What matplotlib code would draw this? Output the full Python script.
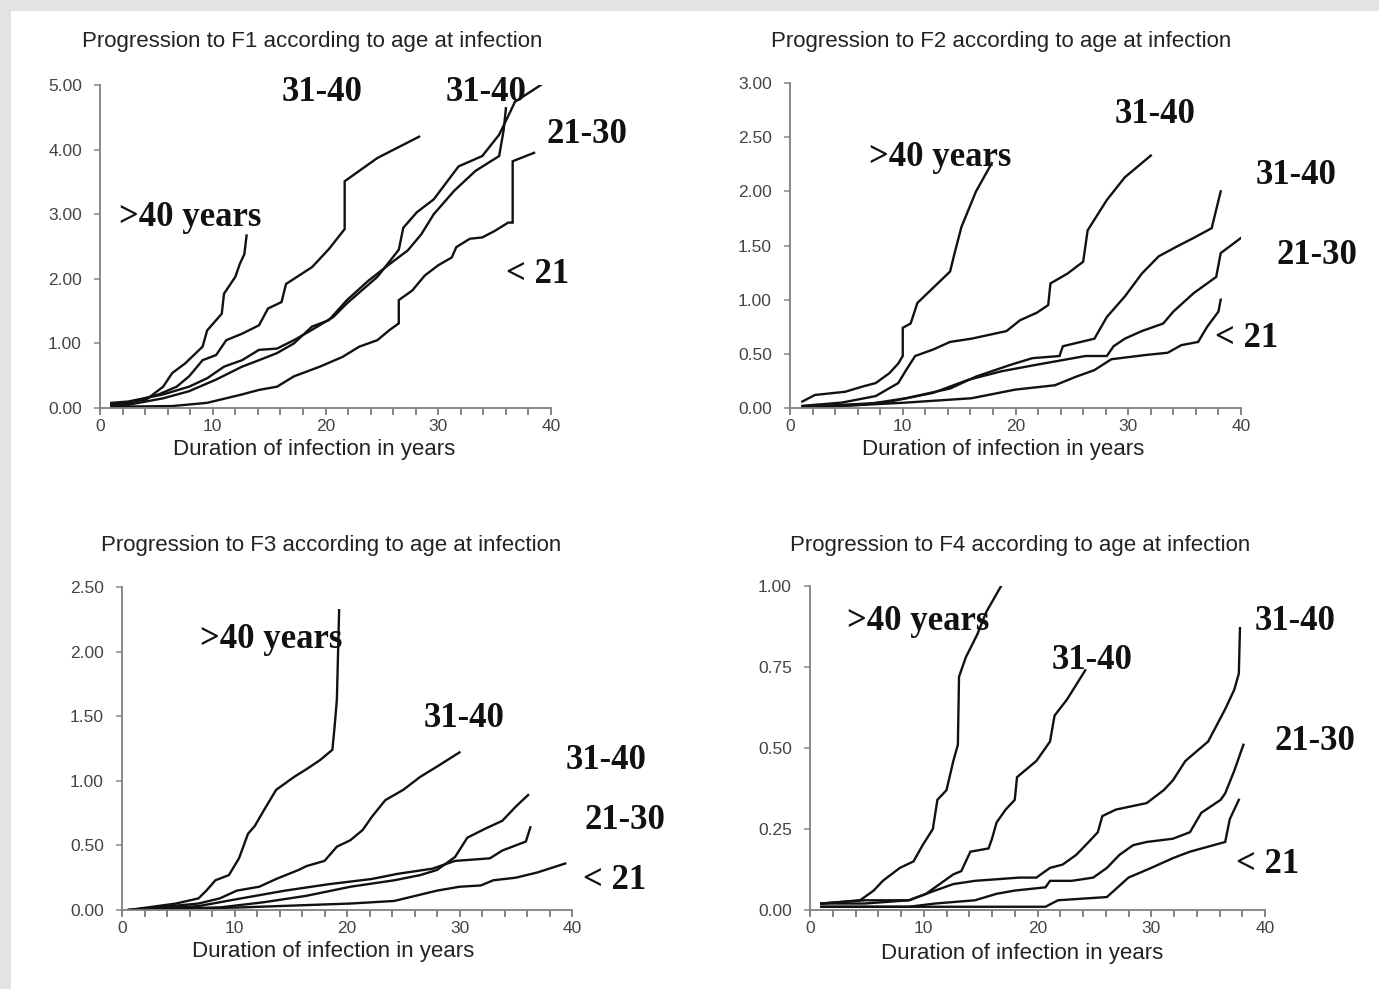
import numpy as np
import matplotlib
matplotlib.use('Agg')
import matplotlib.pyplot as plt
from matplotlib.patches import Rectangle

# ---- data (duration in years, cumulative value) ----
# F1
f1_gt40_x = [1.0, 4.1, 5.6, 6.4, 7.55, 9.1, 9.5, 10.8, 11.0, 12.0, 12.4, 12.8, 13.0]
f1_gt40_y = [0.05, 0.13, 0.33, 0.54, 0.69, 0.95, 1.2, 1.46, 1.77, 2.03, 2.23, 2.38, 2.67]
f1_a_x = [1.0, 2.5, 5.2, 6.8, 7.9, 9.1, 10.3, 11.2, 12.6, 14.1, 14.9, 16.1, 16.5, 18.8, 20.3, 21.7, 21.7, 24.6, 28.3]
f1_a_y = [0.05, 0.08, 0.21, 0.33, 0.49, 0.74, 0.82, 1.05, 1.15, 1.28, 1.54, 1.64, 1.92, 2.18, 2.46, 2.77, 3.51, 3.87, 4.2]
f1_b_x = [1.0, 2.5, 5.6, 7.9, 9.5, 11.0, 12.6, 14.1, 15.7, 17.2, 18.8, 20.7, 21.9, 24.6, 26.5, 26.9, 28.1, 29.6, 31.8, 33.9, 35.4, 36.4, 36.8, 39.1]
f1_b_y = [0.08, 0.10, 0.21, 0.33, 0.46, 0.64, 0.74, 0.90, 0.92, 1.05, 1.21, 1.41, 1.62, 2.03, 2.45, 2.79, 3.03, 3.23, 3.74, 3.9, 4.23, 4.59, 4.74, 5.0]
f1_c_x = [1.0, 2.5, 5.6, 7.9, 10.3, 12.6, 14.1, 15.7, 17.2, 18.8, 20.3, 21.9, 23.8, 25.7, 27.3, 28.5, 29.6, 31.4, 33.3, 35.4, 35.8, 36.0]
f1_c_y = [0.04, 0.05, 0.15, 0.26, 0.44, 0.64, 0.74, 0.85, 1.0, 1.26, 1.36, 1.67, 1.97, 2.23, 2.44, 2.69, 3.0, 3.36, 3.67, 3.9, 4.3, 4.64]
f1_lt21_x = [1.0, 6.4, 9.5, 12.6, 14.1, 15.7, 17.2, 19.5, 21.5, 23.0, 24.6, 25.7, 26.5, 26.5, 27.7, 28.8, 30.0, 31.2, 31.6, 32.8, 33.9, 35.0, 36.2, 36.6, 36.6, 38.5]
f1_lt21_y = [0.02, 0.03, 0.08, 0.21, 0.28, 0.33, 0.49, 0.64, 0.79, 0.95, 1.05, 1.21, 1.31, 1.67, 1.82, 2.05, 2.21, 2.33, 2.49, 2.62, 2.64, 2.74, 2.87, 2.87, 3.82, 3.95]

# F2
f2_gt40_x = [1.1, 2.2, 4.9, 6.5, 7.6, 8.8, 9.6, 10.0, 10.0, 10.7, 11.3, 12.7, 14.2, 14.6, 15.2, 16.5, 17.9]
f2_gt40_y = [0.06, 0.12, 0.15, 0.20, 0.23, 0.32, 0.41, 0.48, 0.74, 0.78, 0.97, 1.11, 1.26, 1.43, 1.67, 2.0, 2.26]
f2_a_x = [1.1, 4.6, 7.6, 9.6, 10.3, 11.1, 12.7, 14.2, 16.1, 19.2, 20.4, 21.9, 22.9, 23.1, 24.6, 26.0, 26.4, 28.1, 29.7, 32.0]
f2_a_y = [0.02, 0.05, 0.11, 0.23, 0.35, 0.48, 0.54, 0.61, 0.64, 0.71, 0.81, 0.88, 0.95, 1.15, 1.24, 1.35, 1.64, 1.92, 2.13, 2.33]
f2_b_x = [1.1, 6.5, 10.3, 14.2, 16.5, 19.6, 21.5, 23.9, 24.2, 27.0, 28.1, 29.7, 31.2, 32.7, 34.3, 35.8, 37.4, 38.2]
f2_b_y = [0.01, 0.03, 0.09, 0.18, 0.29, 0.40, 0.46, 0.48, 0.57, 0.64, 0.84, 1.03, 1.24, 1.40, 1.49, 1.57, 1.66, 2.0]
f2_c_x = [1.1, 8.4, 12.7, 15.8, 18.8, 21.9, 24.6, 26.2, 28.1, 28.7, 29.7, 31.2, 33.1, 34.0, 35.8, 37.8, 38.2, 40.0]
f2_c_y = [0.01, 0.05, 0.14, 0.26, 0.34, 0.40, 0.45, 0.48, 0.48, 0.57, 0.64, 0.71, 0.78, 0.89, 1.06, 1.21, 1.43, 1.57]
f2_lt21_x = [1.1, 10.3, 16.1, 20.0, 23.5, 25.4, 27.0, 28.5, 31.6, 33.5, 34.7, 36.2, 37.0, 38.0, 38.2]
f2_lt21_y = [0.0, 0.05, 0.09, 0.17, 0.21, 0.29, 0.35, 0.45, 0.49, 0.51, 0.58, 0.61, 0.75, 0.89, 1.0]

# F3
f3_gt40_x = [0.6, 4.8, 6.8, 7.5, 8.3, 9.5, 10.4, 11.2, 11.8, 12.6, 13.7, 15.3, 16.4, 17.6, 18.7, 18.9, 19.1, 19.3]
f3_gt40_y = [0.0, 0.05, 0.09, 0.15, 0.23, 0.27, 0.40, 0.59, 0.65, 0.77, 0.93, 1.03, 1.09, 1.16, 1.24, 1.42, 1.63, 2.32]
f3_a_x = [0.6, 6.8, 8.7, 10.2, 12.2, 13.7, 15.7, 16.4, 18.0, 19.1, 20.3, 21.4, 22.2, 23.4, 25.0, 26.5, 28.0, 30.0]
f3_a_y = [0.0, 0.05, 0.09, 0.15, 0.18, 0.24, 0.31, 0.34, 0.38, 0.49, 0.54, 0.62, 0.72, 0.85, 0.93, 1.03, 1.11, 1.22]
f3_b_x = [0.6, 8.7, 12.6, 16.4, 20.3, 24.2, 26.5, 28.0, 29.6, 30.7, 32.3, 33.8, 35.0, 36.1]
f3_b_y = [0.0, 0.02, 0.06, 0.11, 0.18, 0.23, 0.27, 0.31, 0.41, 0.56, 0.63, 0.69, 0.80, 0.89]
f3_c_x = [0.6, 6.8, 10.6, 14.5, 18.4, 22.2, 24.5, 27.6, 29.6, 32.7, 33.8, 35.9, 36.3]
f3_c_y = [0.0, 0.03, 0.09, 0.15, 0.20, 0.24, 0.28, 0.32, 0.38, 0.40, 0.46, 0.53, 0.64]
f3_lt21_x = [0.6, 10.6, 20.3, 24.2, 26.1, 28.0, 30.0, 31.9, 33.0, 35.0, 36.9, 39.4]
f3_lt21_y = [0.0, 0.02, 0.05, 0.07, 0.11, 0.15, 0.18, 0.19, 0.23, 0.25, 0.29, 0.36]

# F4
f4_gt40_x = [1.0, 4.4, 5.6, 6.4, 7.9, 9.1, 9.9, 10.8, 11.2, 12.0, 12.6, 13.0, 13.1, 13.7, 14.7, 15.5, 16.8]
f4_gt40_y = [0.02, 0.03, 0.06, 0.09, 0.13, 0.15, 0.20, 0.25, 0.34, 0.37, 0.46, 0.51, 0.72, 0.78, 0.85, 0.92, 1.0]
f4_a_x = [1.0, 4.8, 8.7, 10.2, 11.4, 12.6, 13.3, 14.1, 15.7, 16.0, 16.4, 17.2, 18.0, 18.2, 19.9, 21.1, 21.5, 22.6, 24.2]
f4_a_y = [0.02, 0.02, 0.03, 0.05, 0.08, 0.11, 0.12, 0.18, 0.19, 0.22, 0.27, 0.31, 0.34, 0.41, 0.46, 0.52, 0.60, 0.65, 0.74]
f4_b_x = [1.0, 4.8, 8.7, 11.0, 12.6, 14.5, 18.4, 19.9, 21.1, 22.2, 23.4, 24.5, 25.3, 25.7, 26.9, 29.6, 31.1, 31.9, 33.0, 35.0, 36.5, 37.3, 37.7, 37.8]
f4_b_y = [0.02, 0.03, 0.03, 0.06, 0.08, 0.09, 0.10, 0.10, 0.13, 0.14, 0.17, 0.21, 0.24, 0.29, 0.31, 0.33, 0.37, 0.40, 0.46, 0.52, 0.62, 0.68, 0.73, 0.87]
f4_c_x = [1.0, 8.7, 11.0, 14.5, 16.4, 18.0, 20.7, 21.1, 23.0, 24.9, 26.1, 27.2, 28.4, 29.6, 31.9, 33.4, 34.4, 36.1, 36.5, 37.3, 38.1]
f4_c_y = [0.01, 0.01, 0.02, 0.03, 0.05, 0.06, 0.07, 0.09, 0.09, 0.10, 0.13, 0.17, 0.20, 0.21, 0.22, 0.24, 0.30, 0.34, 0.36, 0.43, 0.51]
f4_lt21_x = [1.0, 14.9, 20.7, 21.8, 26.1, 28.0, 30.0, 31.9, 33.4, 36.5, 36.9, 37.7]
f4_lt21_y = [0.01, 0.01, 0.01, 0.03, 0.04, 0.10, 0.13, 0.16, 0.18, 0.21, 0.28, 0.34]

titles = ['Progression to F1 according to age at infection',
          'Progression to F2 according to age at infection',
          'Progression to F3 according to age at infection',
          'Progression to F4 according to age at infection']
xlabel = 'Duration of infection in years'
ymax = [5.0, 3.0, 2.5, 1.0]
ystep = [1.0, 0.5, 0.5, 0.25]
curve_labels = ['>40 years', '31-40', '31-40', '21-30', '< 21']

series = [
    [(f1_gt40_x, f1_gt40_y), (f1_a_x, f1_a_y), (f1_b_x, f1_b_y), (f1_c_x, f1_c_y), (f1_lt21_x, f1_lt21_y)],
    [(f2_gt40_x, f2_gt40_y), (f2_a_x, f2_a_y), (f2_b_x, f2_b_y), (f2_c_x, f2_c_y), (f2_lt21_x, f2_lt21_y)],
    [(f3_gt40_x, f3_gt40_y), (f3_a_x, f3_a_y), (f3_b_x, f3_b_y), (f3_c_x, f3_c_y), (f3_lt21_x, f3_lt21_y)],
    [(f4_gt40_x, f4_gt40_y), (f4_a_x, f4_a_y), (f4_b_x, f4_b_y), (f4_c_x, f4_c_y), (f4_lt21_x, f4_lt21_y)],
]

# label anchor positions (data coords), order as curve_labels
label_pos = [
    [(8.0, 2.95), (19.7, 4.88), (34.2, 4.88), (43.2, 4.24), (38.8, 2.06)],
    [(13.3, 2.31), (32.4, 2.71), (44.9, 2.15), (46.7, 1.41), (40.5, 0.64)],
    [(13.3, 2.09), (30.4, 1.48), (43.0, 1.16), (44.7, 0.69), (43.8, 0.23)],
    [(9.5, 0.89), (24.8, 0.77), (42.6, 0.89), (44.4, 0.52), (40.2, 0.14)],
]

W, H = 1379, 989
# axes boxes in pixels: (x0, x40, y_top, y_zero)
boxes = [(100, 551, 85, 408), (790, 1241, 83, 408), (122, 572, 587, 910), (810, 1265, 586, 910)]
title_px = [(312, 42), (1001, 42), (331, 545), (1020, 545)]
xlab_px = [(314, 450), (1003, 450), (333, 952), (1022, 953)]

plt.rcParams['font.family'] = ['Liberation Sans', 'DejaVu Sans']
fig = plt.figure(figsize=(W / 100, H / 100), dpi=100)
fig.patch.set_facecolor('white')
# scan border
fig.add_artist(Rectangle((0, 1 - 11 / H), 1, 11 / H, transform=fig.transFigure, color='#e3e3e3', lw=0))
fig.add_artist(Rectangle((0, 0), 11 / W, 1, transform=fig.transFigure, color='#e3e3e3', lw=0))

for i in range(4):
    x0, x40, yt, yz = boxes[i]
    ax = fig.add_axes([x0 / W, 1 - yz / H, (x40 - x0) / W, (yz - yt) / H])
    for xs, ys in series[i]:
        ax.plot(xs, ys, color='#111111', lw=1.7, solid_joinstyle='miter')
    ax.set_xlim(0, 40)
    ax.set_ylim(0, ymax[i])
    ax.set_xticks(np.arange(0, 41, 10))
    ax.set_xticks(np.arange(0, 41, 2), minor=True)
    ax.set_yticks(np.arange(0, ymax[i] + 0.001, ystep[i]))
    ax.set_yticklabels(['%.2f' % v for v in np.arange(0, ymax[i] + 0.001, ystep[i])])
    for s in ['top', 'right']:
        ax.spines[s].set_visible(False)
    for s in ['left', 'bottom']:
        ax.spines[s].set_color('#808080')
        ax.spines[s].set_linewidth(1.3)
    ax.tick_params(axis='x', which='both', direction='out', length=5, width=1.2, color='#707070',
                   labelsize=12.5, labelcolor='#444444', pad=3)
    ax.tick_params(axis='y', direction='out', length=4, width=1.2, color='#909090',
                   labelsize=12.5, labelcolor='#444444', pad=9)
    ax.patch.set_alpha(0)
    for j, lab in enumerate(curve_labels):
        lx, ly = label_pos[i][j]
        ax.text(lx, ly, lab, family='Liberation Serif', fontweight='bold', fontsize=25,
                ha='center', va='center', color='#111111', clip_on=False)
    tx, ty = title_px[i]
    fig.text(tx / W, 1 - ty / H, titles[i], ha='center', va='center', fontsize=16, color='#222222')
    lx, ly = xlab_px[i]
    fig.text(lx / W, 1 - ly / H, xlabel, ha='center', va='center', fontsize=16, color='#222222')

fig.savefig('out.png', dpi=100)
